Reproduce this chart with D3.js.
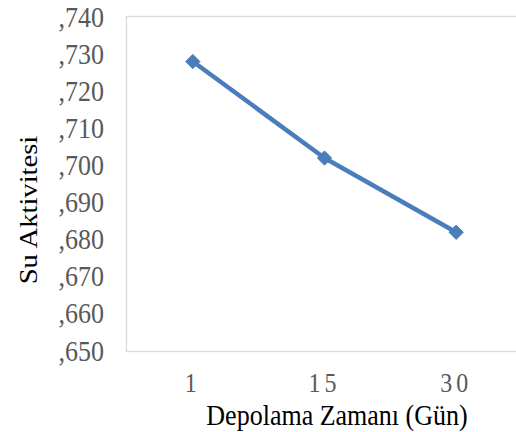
<!DOCTYPE html>
<html><head><meta charset="utf-8">
<script src="https://cdn.jsdelivr.net/npm/d3@7"></script>
<style>body{margin:0;background:#fff}svg{display:block}</style>
</head><body>
<svg id="c" width="516" height="432"></svg>
<script>
const categories = ["1", "15", "30"];
const values = [0.728, 0.702, 0.682];
const yTicks = [0.650, 0.660, 0.670, 0.680, 0.690, 0.700, 0.710, 0.720, 0.730, 0.740];
const xTitle = "Depolama Zamanı (Gün)";
const yTitle = "Su Aktivitesi";

const FONT = '"Liberation Serif", "Times New Roman", serif';
const SY = 1.1; // slight vertical stretch of the reference text
const svg = d3.select("#c");
const L = 127, R = 522, T = 17, B = 351;
const x = d3.scaleBand().domain(categories).range([L, R]);
const y = d3.scaleLinear().domain([0.650, 0.740]).range([B, T]);
const fmt = v => "," + d3.format(".3f")(v).split(".")[1];

svg.append("rect").attr("x", L - 0.5).attr("y", T - 0.5).attr("width", R - L).attr("height", B - T + 1)
  .attr("fill", "none").attr("stroke", "#d9d9d9").attr("stroke-width", 1.3);

const yAxis = svg.append("g").attr("transform", `translate(${L},0)`)
  .call(d3.axisLeft(y).tickValues(yTicks).tickFormat(fmt).tickSize(0).tickPadding(24));
yAxis.select(".domain").remove();
yAxis.selectAll("text")
  .style("font-family", FONT).style("font-size", "26px").attr("fill", "#595959")
  .attr("x", -23).attr("dy", null).attr("y", 9 / SY).attr("transform", `scale(1,${SY})`);

const xAxis = svg.append("g").attr("transform", `translate(0,${B})`)
  .call(d3.axisBottom(x).tickSize(0).tickPadding(22));
xAxis.select(".domain").remove();
xAxis.selectAll("text")
  .style("font-family", FONT).style("font-size", "24px").style("letter-spacing", "4px")
  .attr("fill", "#595959").attr("dy", null).attr("y", 41.5 / SY).attr("transform", `scale(1,${SY})`);

const pts = categories.map((c, i) => [x(c) + x.bandwidth() / 2, y(values[i])]);
svg.append("path").attr("d", d3.line()(pts)).attr("fill", "none")
  .attr("stroke", "#4a7ebb").attr("stroke-width", 4.5).attr("stroke-linejoin", "round");
svg.selectAll(".m").data(pts).enter().append("path")
  .attr("transform", d => `translate(${d[0]},${d[1]})`)
  .attr("d", d3.symbol().type(d3.symbolDiamond2).size(130))
  .attr("fill", "#4a7ebb").attr("stroke", "#4a7ebb").attr("stroke-width", 1);

svg.append("text").attr("transform", `translate(337,425) scale(1,${SY})`).attr("text-anchor", "middle")
  .style("font-family", FONT).style("font-size", "26px").attr("fill", "#000").text(xTitle);
svg.append("text").attr("transform", `translate(37,210) scale(1,${SY}) rotate(-90)`).attr("text-anchor", "middle")
  .style("font-family", FONT).style("font-size", "26px").attr("fill", "#000").text(yTitle);
</script>
</body></html>
